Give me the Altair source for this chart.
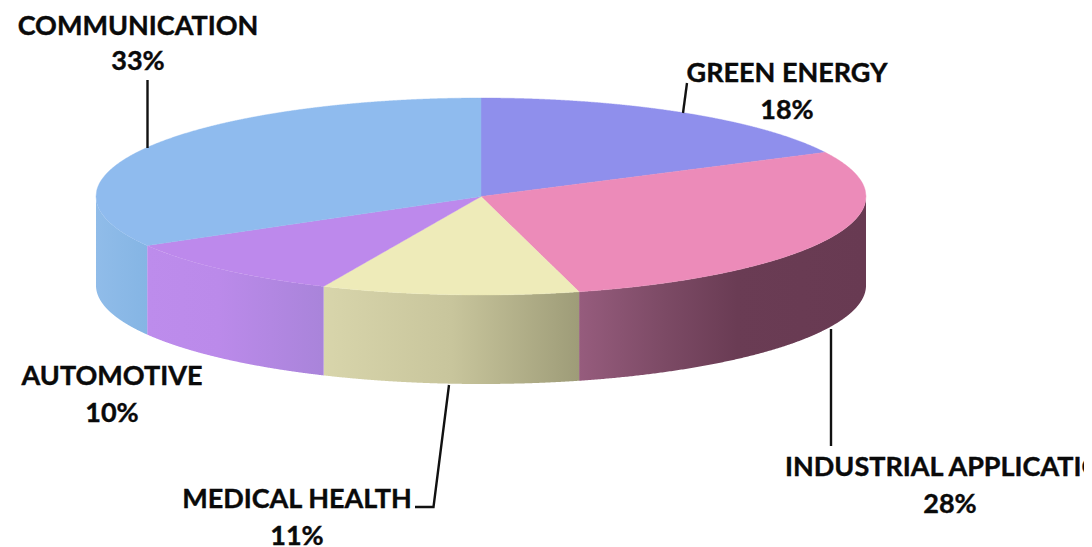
import numpy as np
import pandas as pd
import altair as alt

categories = ["GREEN ENERGY", "INDUSTRIAL APPLICATIONS", "MEDICAL HEALTH", "AUTOMOTIVE", "COMMUNICATION"]
shares = [17.6, 28.3, 10.8, 10.0, 33.3]

top_colors = ["#8f8fec", "#ec8bb9", "#eeebb9", "#bd89ec", "#8fbbee"]
wall_stops = [
    None,
    [("#965c7d", 0), ("#7c4a65", 0.3), ("#6a3c54", 0.55), ("#683a52", 1)],
    [("#d8d5ab", 0), ("#c8c59c", 0.5), ("#9e9c78", 1)],
    [("#bd8cec", 0), ("#bb8aea", 0.4), ("#a984da", 1)],
    [("#90bce9", 0), ("#85b5e4", 1)],
]

CX, CY, RX, RY, DEPTH = 481.0, 196.5, 385.0, 98.5, 89.0
W, H = 1076, 539

xs_scale = alt.Scale(domain=[8, 8 + W], range=[0, W], nice=False, zero=False)
ys_scale = alt.Scale(domain=[8, 8 + H], range=[0, H], nice=False, zero=False)
X = lambda f: alt.X(f, type="quantitative", scale=xs_scale, axis=None)
Y = lambda f: alt.Y(f, type="quantitative", scale=ys_scale, axis=None)


def ell(deg):
    a = np.radians(deg)
    return CX + RX * np.sin(a), CY - RY * np.cos(a)


def top_slice(a0, a1):
    ang = np.linspace(a0, a1, 400)
    px, py = ell(ang)
    px = np.concatenate([[CX], px, [CX]])
    py = np.concatenate([[CY], py, [CY]])
    sweep = np.unique(np.concatenate([np.linspace(px.min(), px.max(), 500), px[[1, -2]]]))
    rows = []
    for x in sweep:
        hits = []
        for i in range(len(px) - 1):
            lo, hi = sorted((px[i], px[i + 1]))
            if lo - 1e-9 <= x <= hi + 1e-9:
                if hi - lo < 1e-9:
                    hits += [py[i], py[i + 1]]
                else:
                    hits.append(py[i] + (py[i + 1] - py[i]) * (x - px[i]) / (px[i + 1] - px[i]))
        if hits:
            rows.append({"x": x, "y": min(hits), "y2": max(hits)})
    return pd.DataFrame(rows)


def wall(a0, a1):
    ang = np.linspace(a0, a1, 300)
    px, py = ell(ang)
    return pd.DataFrame({"x": px, "y": py, "y2": py + DEPTH}).sort_values("x")


layers = []
edges = np.cumsum([0] + shares) * 3.6
for i, name in enumerate(categories):
    a0, a1 = edges[i], edges[i + 1]
    lo, hi = max(a0, 90), min(a1, 270)
    if wall_stops[i] is not None and hi > lo:
        grad = alt.Gradient(
            gradient="linear", x1=0, x2=1, y1=0, y2=0,
            stops=[alt.GradientStop(color=c, offset=o) for c, o in wall_stops[i]],
        )
        layers.append(alt.Chart(wall(lo, hi)).mark_area(color=grad, clip=False).encode(
            x=X("x"), y=Y("y"), y2="y2"))
for i, name in enumerate(categories):
    layers.append(alt.Chart(top_slice(edges[i], edges[i + 1])).mark_area(
        color=top_colors[i], stroke=top_colors[i], strokeWidth=0.4).encode(
        x=X("x"), y=Y("y"), y2="y2"))

leaders = pd.DataFrame([
    {"k": "c", "o": 0, "x": 147.5, "y": 80}, {"k": "c", "o": 1, "x": 147.5, "y": 148},
    {"k": "g", "o": 0, "x": 687, "y": 83}, {"k": "g", "o": 1, "x": 683, "y": 113},
    {"k": "i", "o": 0, "x": 831, "y": 329}, {"k": "i", "o": 1, "x": 831, "y": 446},
    {"k": "m", "o": 0, "x": 449, "y": 385}, {"k": "m", "o": 1, "x": 433.5, "y": 507},
    {"k": "m", "o": 2, "x": 415, "y": 507},
])
layers.append(alt.Chart(leaders).mark_line(color="#111111", strokeWidth=2.4).encode(
    x=X("x"), y=Y("y"), detail="k:N", order="o:Q"))

label_pos = {
    "GREEN ENERGY": (787, 74, 787, 111),
    "INDUSTRIAL APPLICATIONS": (785, 468, 950, 505),
    "MEDICAL HEALTH": (297, 500, 297, 537),
    "AUTOMOTIVE": (112, 377, 112, 414),
    "COMMUNICATION": (138, 27, 138, 62),
}
rows_c, rows_l = [], []
for name, v in zip(categories, shares):
    x1, y1, x2, y2 = label_pos[name]
    (rows_l if name.startswith("INDUSTRIAL") else rows_c).append({"x": x1, "y": y1, "t": name})
    rows_c.append({"x": x2, "y": y2, "t": f"{round(v)}%"})

font = dict(font="Lato", fontWeight="bold", fontSize=27, color="#0a0a0a", baseline="middle",
            stroke="#0a0a0a", strokeWidth=0.4)
layers.append(alt.Chart(pd.DataFrame(rows_c)).mark_text(align="center", **font).encode(
    x=X("x"), y=Y("y"), text="t:N"))
layers.append(alt.Chart(pd.DataFrame(rows_l)).mark_text(align="left", **font).encode(
    x=X("x"), y=Y("y"), text="t:N"))

chart = alt.layer(*layers).properties(
    width=W, height=H, padding=0,
    autosize=alt.AutoSizeParams(type="none"),
    background="white",
).configure_view(stroke=None)

chart.save("out.html", embed_options={"renderer": "svg", "actions": False})
